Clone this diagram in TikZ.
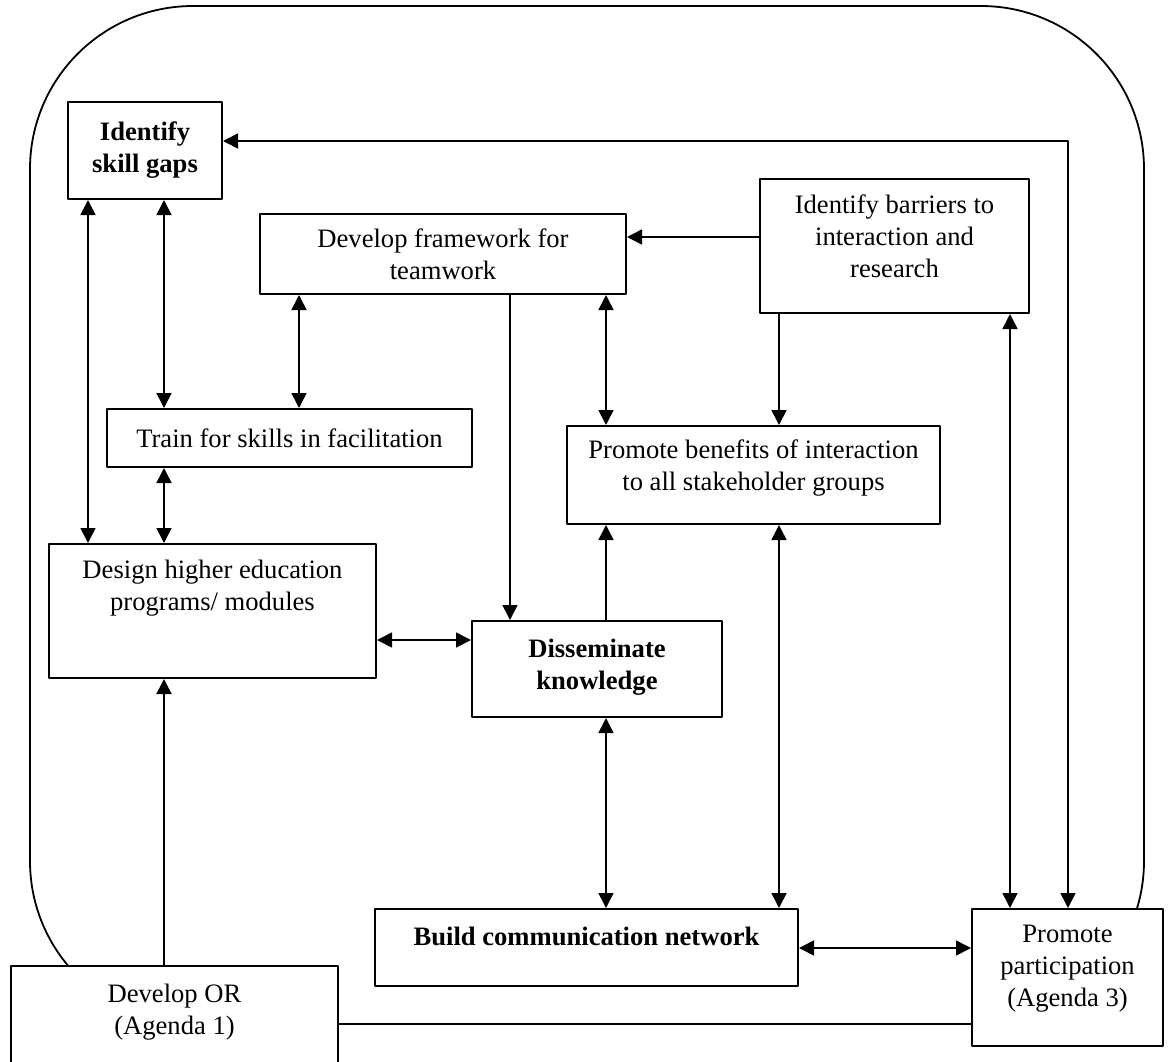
\documentclass[tikz,border=0pt]{standalone}
\usepackage{fontspec}
\setmainfont{Liberation Serif}
\usetikzlibrary{arrows.meta}
\begin{document}
\begin{tikzpicture}[x=0.5pt, y=-0.5pt, line join=round,
    box/.style={draw, fill=white, line width=1pt, align=center, inner sep=2pt,
        font=\fontsize{13.3}{16}\selectfont},
    bold/.style={font=\fontsize{13.3}{16}\selectfont\bfseries},
    link/.style={line width=0.8pt, -{Triangle[length=7.5pt,width=7.5pt]}},
    both/.style={line width=0.8pt, {Triangle[length=7.5pt,width=7.5pt]}-{Triangle[length=7.5pt,width=7.5pt]}}]

    \useasboundingbox (0,0) rectangle (1168,1061);

    % outer loop
    \draw[line width=0.9pt, rounded corners=81.5pt] (30,6) rectangle (1144,1024);

    % boxes
    \node[box, bold, minimum width=77pt, minimum height=48.5pt] (gaps) at (145,150.5) {Identify\\skill gaps};
    \node[box, minimum width=183pt, minimum height=40pt] (frame) at (443,254) {Develop framework for\\teamwork};
    \node[box, minimum width=134.5pt, minimum height=67pt, text depth=10.1pt] (barriers) at (894.5,246) {Identify barriers to\\interaction and\\research};
    \node[box, minimum width=182.5pt, minimum height=29pt] (train) at (289.5,438) {Train for skills in facilitation};
    \node[box, minimum width=186.5pt, minimum height=49pt, text depth=10.1pt] (benefits) at (753.5,475) {Promote benefits of interaction\\to all stakeholder groups};
    \node[box, minimum width=163.5pt, minimum height=67pt, text depth=26.1pt] (design) at (212.5,611) {Design higher education\\programs/ modules};
    \node[box, bold, minimum width=125pt, minimum height=48pt, text depth=5.1pt] (dissem) at (597,669) {Disseminate\\knowledge};
    \node[box, bold, minimum width=211.5pt, minimum height=38.5pt, text depth=11.6pt] (network) at (586.5,947.5) {Build communication network};
    \node[box, minimum width=95.5pt, minimum height=68.5pt, text depth=11.6pt] (part) at (1067.5,977.5) {Promote\\participation\\(Agenda 3)};
    \node[box, minimum width=163.5pt, minimum height=52pt, text depth=9.1pt] (dev) at (174.5,1018) {Develop OR\\(Agenda 1)};

    % columns and rows of the connectors
    \coordinate (col1) at (88,0);
    \coordinate (col2) at (164,0);
    \coordinate (col3) at (299,0);
    \coordinate (col4) at (510,0);
    \coordinate (col5) at (606,0);
    \coordinate (col6) at (779,0);
    \coordinate (col7) at (1010,0);
    \coordinate (col8) at (1068,0);
    \coordinate (row1) at (0,141);
    \coordinate (row2) at (0,237);
    \coordinate (row3) at (0,640);
    \coordinate (row4) at (0,948);

    % left part
    \draw[both] (gaps.south -| col1) -- (design.north -| col1);
    \draw[both] (gaps.south -| col2) -- (train.north -| col2);
    \draw[both] (frame.south -| col3) -- (train.north -| col3);
    \draw[both] (train.south -| col2) -- (design.north -| col2);
    \draw[link] (dev.north -| col2) -- (design.south -| col2);
    \draw[both] (design.east |- row3) -- (dissem.west |- row3);

    % middle part
    \draw[link] (frame.south -| col4) -- (dissem.north -| col4);
    \draw[link] (barriers.west |- row2) -- (frame.east |- row2);
    \draw[both] (frame.south -| col5) -- (benefits.north -| col5);
    \draw[link] (barriers.south -| col6) -- (benefits.north -| col6);
    \draw[link] (dissem.north -| col5) -- (benefits.south -| col5);
    \draw[both] (benefits.south -| col6) -- (network.north -| col6);
    \draw[both] (dissem.south -| col5) -- (network.north -| col5);

    % right part
    \draw[both] (network.east |- row4) -- (part.west |- row4);
    \draw[both] (barriers.south -| col7) -- (part.north -| col7);
    \draw[both] (part.north -| col8) |- (gaps.east |- row1);

\end{tikzpicture}
\end{document}
